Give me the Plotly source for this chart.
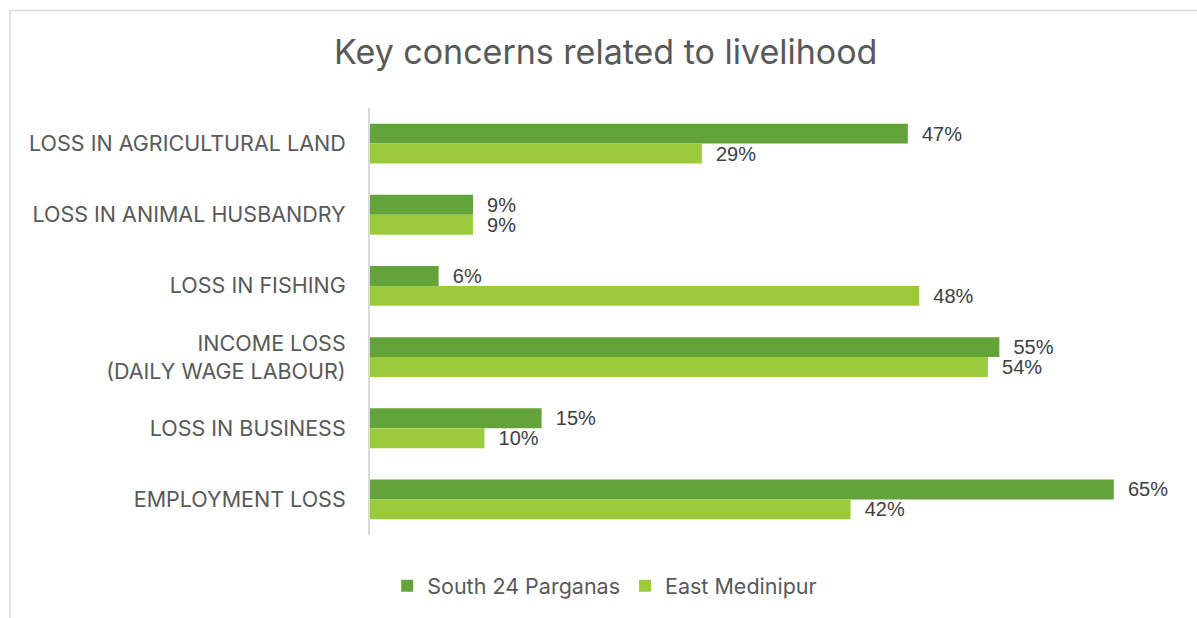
import plotly.graph_objects as go

categories = [
    "LOSS IN AGRICULTURAL LAND",
    "LOSS IN ANIMAL HUSBANDRY",
    "LOSS IN FISHING",
    "INCOME LOSS<br>(DAILY WAGE LABOUR)",
    "LOSS IN BUSINESS",
    "EMPLOYMENT LOSS",
]
south_24_parganas = [47, 9, 6, 55, 15, 65]
east_medinipur = [29, 9, 48, 54, 10, 42]

DARK_GREEN = "#62A43A"
LIGHT_GREEN = "#9BCB3B"
TEXT_GREY = "#595959"
LABEL_GREY = "#404040"
UI_FONT = "Inter"

fig = go.Figure()
for name, values, color in [
    ("South 24 Parganas", south_24_parganas, DARK_GREEN),
    ("East Medinipur", east_medinipur, LIGHT_GREEN),
]:
    fig.add_trace(go.Bar(
        name=name,
        y=categories,
        x=values,
        orientation="h",
        marker=dict(color=color, line=dict(width=0)),
        text=[f"  {v}%" for v in values],
        textposition="outside",
        constraintext="none",
        textfont=dict(family="Liberation Sans, Arial", size=20, color=LABEL_GREY),
        cliponaxis=False,
        hoverinfo="skip",
    ))

# chart frame (top and left edges visible)
fig.add_shape(
    type="rect", xref="paper", yref="paper",
    x0=-0.4494, x1=1.05, y0=-0.25, y1=1.2284,
    line=dict(color="#D9D9D9", width=1.5), fillcolor="rgba(0,0,0,0)", layer="below",
)

fig.update_layout(
    width=1197,
    height=618,
    margin=dict(l=370, r=26, t=108, b=81),
    paper_bgcolor="white",
    plot_bgcolor="white",
    barmode="group",
    bargap=0.44,
    bargroupgap=0,
    title=dict(
        text="Key concerns related to livelihood",
        x=0.506, xanchor="center",
        y=0.916, yanchor="middle",
        font=dict(family=UI_FONT, size=34, color=TEXT_GREY),
    ),
    xaxis=dict(
        range=[0, 70],
        showgrid=False,
        zeroline=False,
        showticklabels=False,
        showline=False,
    ),
    yaxis=dict(
        autorange="reversed",
        showgrid=False,
        showline=True,
        linecolor="#D9D9D9",
        linewidth=2,
        ticks="",
        ticklabelstandoff=18,
        tickfont=dict(family=UI_FONT, size=21.5, color=TEXT_GREY),
    ),
    legend=dict(
        orientation="h",
        x=0.293, xanchor="center",
        y=-0.119, yanchor="middle",
        font=dict(family=UI_FONT, size=21.5, color=TEXT_GREY),
        itemwidth=30,
        traceorder="normal",
    ),
    showlegend=True,
)

fig.write_html("out.html")
